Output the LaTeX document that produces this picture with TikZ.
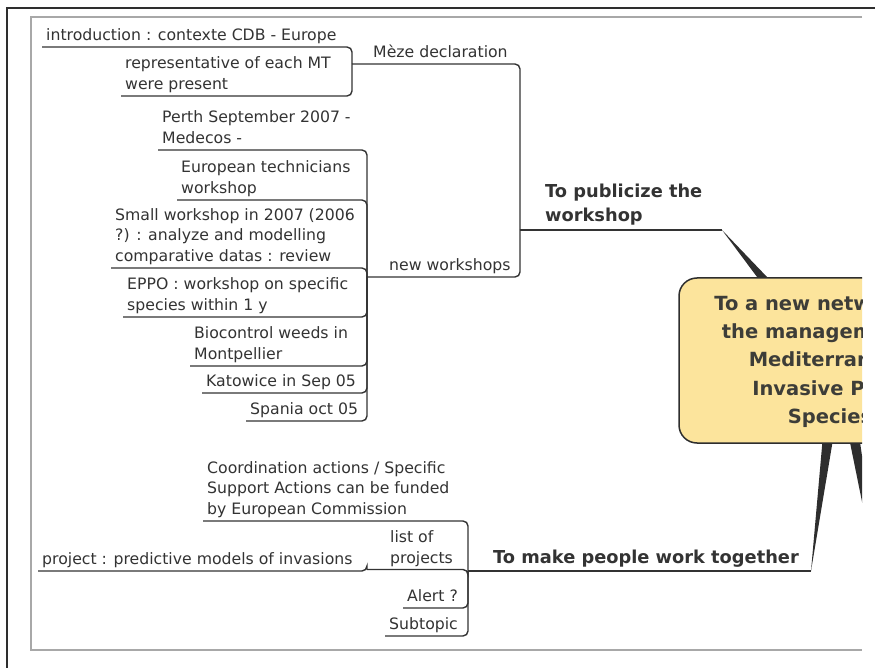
\documentclass[tikz,border=0pt]{standalone}
\usepackage{fontspec}
\setmainfont{DejaVu Sans}
\usetikzlibrary{calc}
\definecolor{ink}{HTML}{333333}
\definecolor{framegray}{HTML}{A8A8A8}
\definecolor{darkline}{HTML}{2E2E2E}
\definecolor{topicfill}{HTML}{FCE49C}
\definecolor{centertext}{HTML}{3D3D38}
\newcommand{\tl}[1]{\begin{tabular}[b]{@{}l@{}}#1\end{tabular}}
\tikzset{
  tp/.style={anchor=south west, inner xsep=4pt, inner ysep=0.6pt,
    font=\fontsize{15.7}{20.5}\selectfont, text=ink},
  tpb/.style={tp, inner ysep=0.6pt, font=\bfseries\fontsize{17.8}{24}\selectfont},
  conn/.style={draw=ink, line width=1.4pt, rounded corners=5pt},
  wedge/.style={fill=darkline},
  centerbox/.style={draw=darkline, line width=1.5pt, fill=topicfill,
    rounded corners=18pt, minimum width=294pt, minimum height=165pt,
    align=center, text=centertext, font=\bfseries\fontsize{19.5}{28.3}\selectfont}
}
\begin{document}
\begin{tikzpicture}[x=1pt,y=-1pt]
\useasboundingbox (0,0) rectangle (875,668);
\fill[white] (0,0) rectangle (875,668);
% window frames
\draw[darkline, line width=2.5pt] (7,668) -- (7,8) -- (875,8);
\draw[framegray, line width=1.5pt] (862,17) -- (31,17) -- (31,650) -- (862,650);

% junction coordinates
\coordinate (jPub) at (520,230);
\coordinate (pubEnd) at (722,230);
\coordinate (jMeze) at (352,64);
\coordinate (jNew) at (367,277);
\coordinate (jMake) at (468,571);
\coordinate (makeEnd) at (811,571);
\coordinate (jList) at (367,569.5);
\coordinate (offTip) at (884,610);

% text nodes
\node[tp] (intro) at (42,47) {\tl{introduction : contexte CDB - Europe}};
\node[tp] (repr) at (121,96) {\tl{representative of each MT\\were present}};
\node[tp] (meze) at (369,64) {\tl{Mèze declaration}};
\node[tp] (perth) at (158,150) {\tl{Perth September 2007 -\\Medecos -}};
\node[tp] (euro) at (177,200) {\tl{European technicians\\workshop}};
\node[tp] (small) at (111,268) {\tl{Small workshop in 2007 (2006\\?) : analyze and modelling\\comparative datas : review}};
\node[tp] (eppo) at (123,317) {\tl{EPPO : workshop on specific\\species within 1 y}};
\node[tp] (bio) at (190,366) {\tl{Biocontrol weeds in\\Montpellier}};
\node[tp] (kato) at (202,393) {\tl{Katowice in Sep 05}};
\node[tp] (spania) at (246,421) {\tl{Spania oct 05}};
\node[tp] (neww) at (385,277) {\tl{new workshops}};
\node[tpb] (pub) at (541,230) {\tl{To publicize the\\workshop}};
\node[tp] (coord) at (203,521) {\tl{Coordination actions / Specific\\Support Actions can be funded\\by European Commission}};
\node[tp] (list) at (386,570) {\tl{list of\\projects}};
\node[tp] (proj) at (38,571) {\tl{project : predictive models of invasions}};
\node[tp] (alert) at (403,608) {\tl{Alert ?}};
\node[tp] (subt) at (385,636) {\tl{Subtopic}};
\node[tpb] (make) at (489,571) {\tl{To make people work together}};

% connectors: upper branch
\draw[conn] (jPub) -- (pubEnd);
\draw[conn] (jPub) |- (jMeze);
\draw[conn] (jPub) |- (jNew);
\draw[conn] (jMeze) |- (intro.south west);
\draw[conn] (jMeze) |- (repr.south west);
\foreach \n in {perth,euro,small,eppo,bio,kato,spania}
  \draw[conn] (jNew) |- (\n.south west);
% lower branch
\draw[conn] (jMake) -- (makeEnd);
\draw[conn] (jMake) |- (coord.south west);
\draw[conn] (jMake) |- (jList);
\draw[conn] (jList) |- (proj.south west);
\draw[conn] (jMake) |- (alert.south west);
\draw[conn] (jMake) |- (subt.south west);

% central topic, clipped by the window
\begin{scope}
\clip (0,0) rectangle (862,668);
\node[centerbox] (center) at (826,360.5) {};
\node[align=center, text=centertext, font=\bfseries\fontsize{19.5}{28.3}\selectfont, inner sep=0pt] (centertxt) at (830,361.5) {To a new network for\\the management of\\Mediterranean\\Invasive Plant\\Species};
\fill[wedge] (pubEnd) -- ([xshift=79pt]center.north west) -- ([xshift=89pt]center.north west) -- cycle;
\fill[wedge] (makeEnd) -- ([xshift=144pt]center.south west) -- ([xshift=154pt]center.south west) -- cycle;
\fill[wedge] (offTip) -- ([xshift=172pt]center.south west) -- ([xshift=182pt]center.south west) -- cycle;
\end{scope}
\end{tikzpicture}
\end{document}
